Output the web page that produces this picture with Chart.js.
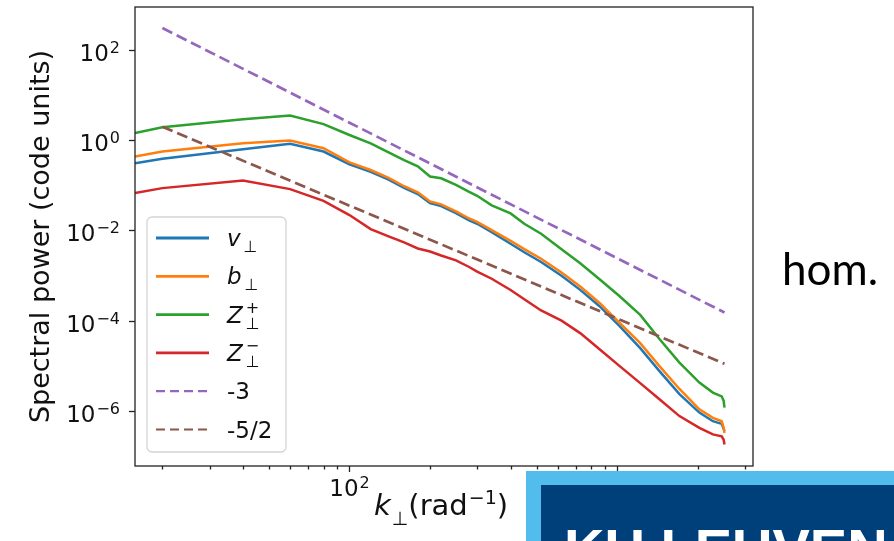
<!DOCTYPE html>
<html>
<head>
<meta charset="utf-8">
<script src="https://cdn.jsdelivr.net/npm/chart.js@4.4.1/dist/chart.umd.min.js"></script>
<style>
    html, body { margin: 0; padding: 0; background: #fff; }
    #wrap { position: relative; width: 894px; height: 541px; overflow: hidden; }
    #hom { position: absolute; left: 782px; top: 246px; font: 44px/44px Lato, sans-serif; color: #000; }
    #logo { position: absolute; left: 526px; top: 471px; width: 368px; height: 70px; background: #52bdec; overflow: hidden; }
    #logo .inner { position: absolute; left: 15px; top: 14px; right: -20px; bottom: -20px; background: #00407a; }
    #logo .name { position: absolute; left: 38px; top: 50px; color: #fff; font: bold 56px/56px "Liberation Sans", sans-serif; white-space: nowrap; }
</style>
</head>
<body>
<div id="wrap">
    <canvas id="spectraChart"></canvas>
    <div id="hom">hom.</div>
    <div id="logo"><div class="inner"></div><div class="name">KU LEUVEN</div></div>
</div>
<script>
// wavenumbers (rad^-1) of the spectra
var kValues = [15.8, 20, 40, 60, 80, 100, 120, 140, 160, 180, 200, 220, 250, 280, 300, 340,
    400, 450, 520, 620, 730, 860, 1020, 1220, 1440, 1710, 2030, 2280, 2460, 2500, 2520];

var vPerp = [0.305, 0.380, 0.623, 0.816, 0.551, 0.286, 0.196, 0.132, 0.0859, 0.0629, 0.0396, 0.0341,
    0.0239, 0.01655, 0.01386, 0.00899, 0.0050, 0.00324, 0.00197, 9.75e-4, 4.71e-4, 2.07e-4, 7.6e-5,
    2.44e-5, 7.55e-6, 2.35e-6, 9.12e-7, 5.89e-7, 5.13e-7, 4.04e-7, 3.6e-7];
var bPerp = [0.427, 0.551, 0.845, 0.965, 0.655, 0.316, 0.215, 0.144, 0.094, 0.0689, 0.0434, 0.0374,
    0.0262, 0.01815, 0.01534, 0.01005, 0.00582, 0.00381, 0.00233, 0.00116, 5.6e-4, 2.45e-4, 8.93e-5,
    3.15e-5, 9.75e-6, 3.05e-6, 1.08e-6, 7.0e-7, 5.86e-7, 4.25e-7, 3.24e-7];
var zPlus = [1.41, 1.91, 2.87, 3.45, 2.23, 1.28, 0.837, 0.528, 0.357, 0.259, 0.154, 0.141,
    0.101, 0.0707, 0.0577, 0.0356, 0.0235, 0.01386, 0.00832, 0.00378, 0.00183, 8.16e-4, 3.48e-4,
    1.33e-4, 3.9e-5, 1.17e-5, 4.21e-6, 2.53e-6, 2.09e-6, 1.68e-6, 1.18e-6];
var zMinus = [0.0662, 0.0854, 0.126, 0.0811, 0.0447, 0.0216, 0.01057, 0.00726, 0.00535, 0.00394, 0.00338, 0.00275,
    0.00214, 0.00153, 0.00121, 8.41e-4, 4.73e-4, 2.96e-4, 1.67e-4, 9.91e-5, 5.19e-5, 2.31e-5, 9.9e-6,
    4.1e-6, 1.81e-6, 7.64e-7, 4.21e-7, 3.01e-7, 2.73e-7, 2.31e-7, 1.79e-7];

// reference power laws
var fitK = [20, 2520];
var fitMinus3 = [300, 1.5e-4];
var fitMinus52 = [1.95, 1.1e-5];

var yTickValues = [1e-6, 1e-4, 1e-2, 1, 100];
var yTickExponents = ['−6', '−4', '−2', '0', '2'];
var xTickValues = [20, 30, 40, 50, 60, 70, 80, 90, 100, 200, 300, 400, 500, 600, 700, 800, 900, 1000, 2000, 3000];
var xMajorValues = [100, 1000];
var xMajorExponents = ['2', '3'];

// legend entries: pieces of text (it = italic, sub / sup = small script)
var legendLabels = [
    [{ t: 'v', it: true }, { t: '⊥', sub: true }],
    [{ t: 'b', it: true }, { t: '⊥', sub: true }],
    [{ t: 'Z', it: true }, { t: '+', sup: true, stay: true }, { t: '⊥', sub: true }],
    [{ t: 'Z', it: true }, { t: '−', sup: true, stay: true }, { t: '⊥', sub: true }],
    [{ t: '-3' }],
    [{ t: '-5/2' }]
];
var xTitle = [{ t: 'k', it: true }, { t: '⊥', sub: true }, { t: '(rad' }, { t: '−1', sup: true }, { t: ')' }];

var colors = ['#1f77b4', '#ff7f0e', '#2ca02c', '#d62728', '#9467bd', '#8c564b'];

function toPoints(xs, ys) {
    return xs.map(function (k, i) { return { x: k, y: ys[i] }; });
}

function powerLabel(exp) {
    return [{ t: '10' }, { t: exp, sup: true }];
}

// draws text pieces with sub/superscripts; returns the width when draw is false
function drawParts(ctx, x, y, parts, st, draw) {
    var x0 = x;
    parts.forEach(function (p) {
        var small = p.sub || p.sup;
        var fs = small ? st.small : st.size;
        ctx.font = (p.it ? 'italic ' : '') + fs + 'px "DejaVu Sans"';
        var dy = p.sub ? st.subDy : (p.sup ? st.supDy : 0);
        var dx = small ? st.gap : 0;
        if (draw !== false) ctx.fillText(p.t, x + dx, y + dy);
        if (!p.stay) x += ctx.measureText(p.t).width + dx;
    });
    return x - x0;
}

var tickStyle = { size: 23, small: 16, subDy: 5, supDy: -8, gap: 1 };
var legendStyle = { size: 23, small: 16, subDy: 6, supDy: -10, gap: 3 };
var titleStyle = { size: 29, small: 19, subDy: 10, supDy: -11, gap: 1 };

var decorPlugin = {
    id: 'decor',
    afterDatasetsDraw: function (chart) {
        var ctx = chart.ctx, a = chart.chartArea, xs = chart.scales.x, ys = chart.scales.y;
        ctx.save();
        ctx.fillStyle = '#111';
        ctx.textBaseline = 'alphabetic';
        // box round the plot
        ctx.strokeStyle = '#222';
        ctx.lineWidth = 1.3;
        ctx.strokeRect(a.left, a.top, a.right - a.left, a.bottom - a.top);

        // y ticks and labels
        yTickValues.forEach(function (v, i) {
            var py = Math.round(ys.getPixelForValue(v)) + 0.5;
            ctx.beginPath();
            ctx.moveTo(a.left - 6, py);
            ctx.lineTo(a.left, py);
            ctx.stroke();
            var parts = powerLabel(yTickExponents[i]);
            var w = drawParts(ctx, 0, 0, parts, tickStyle, false);
            drawParts(ctx, a.left - 15 - w, py + 10, parts, tickStyle);
        });

        // x ticks, major ones longer and labelled
        xTickValues.forEach(function (v) {
            var px = Math.round(xs.getPixelForValue(v)) + 0.5;
            var m = xMajorValues.indexOf(v);
            ctx.beginPath();
            ctx.moveTo(px, a.bottom);
            ctx.lineTo(px, a.bottom + (m >= 0 ? 6 : 3.5));
            ctx.stroke();
            if (m >= 0) {
                var parts = powerLabel(xMajorExponents[m]);
                var w = drawParts(ctx, 0, 0, parts, tickStyle, false);
                drawParts(ctx, px - w / 2, a.bottom + 30, parts, tickStyle);
            }
        });

        // legend
        var lx = a.left + 12, ly = 217, lw = 139, lh = 235;
        ctx.fillStyle = 'rgba(255,255,255,0.85)';
        ctx.strokeStyle = '#d4d4d4';
        ctx.lineWidth = 1.3;
        ctx.beginPath();
        ctx.roundRect(lx, ly, lw, lh, 5);
        ctx.fill();
        ctx.stroke();
        chart.data.datasets.forEach(function (ds, i) {
            var rowY = ly + 21 + i * 38.3;
            ctx.strokeStyle = ds.borderColor;
            ctx.lineWidth = ds.borderDash.length ? 2.2 : 2.8;
            ctx.setLineDash(ds.borderDash.length ? [9, 5] : []);
            ctx.beginPath();
            ctx.moveTo(lx + 9, rowY);
            ctx.lineTo(lx + 62, rowY);
            ctx.stroke();
            ctx.setLineDash([]);
            ctx.fillStyle = '#111';
            drawParts(ctx, lx + 80, rowY + 8, legendLabels[i], legendStyle);
        });

        // x axis title
        ctx.fillStyle = '#111';
        drawParts(ctx, 374, 515, xTitle, titleStyle);
        ctx.restore();
    }
};

var ctx = document.getElementById('spectraChart').getContext('2d');
Chart.defaults.font.family = '"DejaVu Sans"';
Chart.defaults.color = '#111';

var spectraChart = new Chart(ctx, {
    type: 'line',
    data: {
        datasets: [
            { label: 'v⊥', data: toPoints(kValues, vPerp), borderColor: colors[0], borderWidth: 2.5, borderDash: [], order: 6 },
            { label: 'b⊥', data: toPoints(kValues, bPerp), borderColor: colors[1], borderWidth: 2.5, borderDash: [], order: 5 },
            { label: 'Z⊥⁺', data: toPoints(kValues, zPlus), borderColor: colors[2], borderWidth: 2.5, borderDash: [], order: 4 },
            { label: 'Z⊥⁻', data: toPoints(kValues, zMinus), borderColor: colors[3], borderWidth: 2.5, borderDash: [], order: 3 },
            { label: '-3', data: toPoints(fitK, fitMinus3), borderColor: colors[4], borderWidth: 2.7, borderDash: [11, 5], order: 2 },
            { label: '-5/2', data: toPoints(fitK, fitMinus52), borderColor: colors[5], borderWidth: 2.7, borderDash: [11, 5], order: 1 }
        ]
    },
    options: {
        responsive: true,
        maintainAspectRatio: false,
        animation: false,
        events: [],
        elements: { point: { radius: 0 }, line: { tension: 0, fill: false } },
        layout: { padding: { top: 7, right: 141, left: 0, bottom: 0 } },
        plugins: { legend: { display: false }, tooltip: { enabled: false } },
        scales: {
            x: {
                type: 'logarithmic',
                min: 15.8,
                max: 3220,
                border: { display: false },
                grid: { display: false },
                ticks: { display: false },
                afterFit: function (scale) {
                    scale.height = 75;
                    scale.paddingLeft = 0;
                    scale.paddingRight = 0;
                }
            },
            y: {
                type: 'logarithmic',
                min: 6.1e-8,
                max: 875,
                border: { display: false },
                grid: { display: false },
                ticks: { display: false },
                afterFit: function (scale) {
                    scale.width = 135;
                    scale.paddingTop = 0;
                    scale.paddingBottom = 0;
                },
                title: {
                    display: true,
                    text: 'Spectral power (code units)',
                    font: { size: 27 },
                    color: '#111',
                    padding: { top: 26, bottom: 0 }
                }
            }
        }
    },
    plugins: [decorPlugin]
});
</script>
</body>
</html>
